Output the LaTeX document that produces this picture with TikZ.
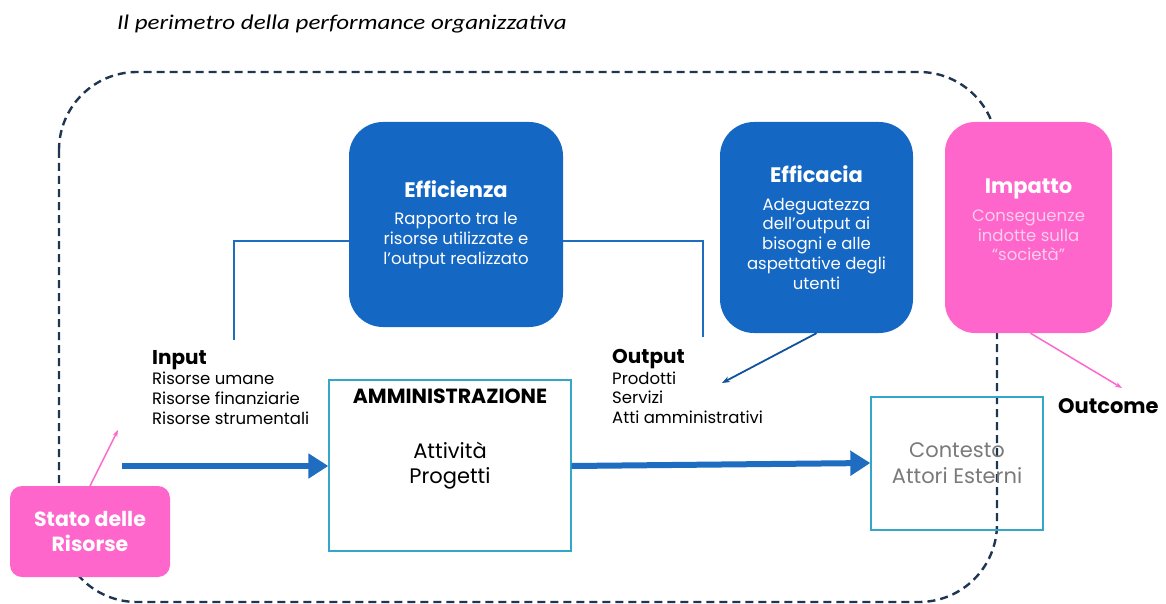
\documentclass[tikz,border=0pt]{standalone}
\usepackage{fontspec}
\setmainfont{Poppins}
\newfontfamily\titlefont{Carlito}
\usetikzlibrary{arrows.meta,calc}
\definecolor{navy}{HTML}{1F3550}
\definecolor{boxblue}{HTML}{1467C3}
\definecolor{flowblue}{HTML}{1F6DC0}
\definecolor{hotpink}{HTML}{FF66CC}
\definecolor{palepink}{HTML}{F9CDEB}
\definecolor{framecol}{HTML}{33A6C9}
\definecolor{greytext}{HTML}{7A7A7A}
\tikzset{
  bluebox/.style={fill=boxblue, draw=none, rounded corners=34pt, text=white,
    align=center, inner sep=0pt, font=\fontsize{16.5}{19.8}\selectfont},
  pinkbox/.style={fill=hotpink, draw=none, text=white, align=center, inner sep=0pt},
  framebox/.style={draw=framecol, line width=1.3pt, inner sep=0pt, align=center},
  perimeter/.style={draw=navy, line width=2.4pt, dash pattern=on 8pt off 5pt,
    rounded corners=78pt},
  bracket/.style={draw=flowblue, line width=2pt},
  flow/.style={draw=flowblue, line width=6pt, -{Triangle[length=20pt,width=24pt]}},
  thinpink/.style={draw=hotpink, line width=1.5pt, -{Stealth[length=7pt,width=5pt]}},
  thinblue/.style={draw=boxblue!80!black, line width=1.8pt, -{Stealth[length=8pt,width=6pt]}},
  sidelist/.style={anchor=north west, align=left, inner sep=0pt,
    font=\fontsize{16.5}{19.6}\selectfont},
}
\newcommand\boxhead[1]{{\fontsize{21}{22}\selectfont\bfseries #1}}
\begin{document}
\begin{tikzpicture}[x=1pt,y=-1pt]
\useasboundingbox (0,0) rectangle (1166,604);

% title
\node (title) [anchor=west, inner sep=0pt,
  font=\titlefont\itshape\fontsize{21}{22}\selectfont] at (117,24)
  {\scalebox{1.19}[1]{Il perimetro della performance organizzativa}};

% dashed perimeter of the organisation
\path[perimeter] (59,72) rectangle (997,602);

% blue assessment boxes
\node (eff) [bluebox, minimum width=214pt, minimum height=205pt] at (456,224.5)
  {\boxhead{Efficienza}\\[8pt]
   Rapporto tra le\\risorse utilizzate e\\l’output realizzato};
\node (effc) [bluebox, minimum width=193pt, minimum height=211pt] at (816.5,227.5)
  {\boxhead{Efficacia}\\[8pt]
   Adeguatezza\\dell’output ai\\bisogni e alle\\aspettative degli\\utenti};
\node (imp) [pinkbox, rounded corners=30pt, minimum width=167pt, minimum height=211pt]
  at (1028.5,227.5) {};
\node (imptext) [text=palepink, align=center, inner sep=0pt, anchor=north,
  font=\fontsize{16.5}{19.6}\selectfont] at (1028.5,179)
  {{\color{white}\boxhead{Impatto}}\\[8pt]
   Conseguenze\\indotte sulla\\“società”};

% bracket joining input and output through Efficienza
\coordinate (inlink) at (234,340);
\coordinate (outlink) at (703,337);
\draw[bracket] (inlink) |- (eff.west |- 0,241);
\draw[bracket] (eff.east |- 0,241) -| (outlink);

% input / output lists
\node (input) [sidelist] at (152,350)
  {{\fontsize{20}{20}\selectfont\bfseries Input}\\[1pt]
   Risorse umane\\Risorse finanziarie\\Risorse strumentali};
\node (output) [sidelist] at (612,349)
  {{\fontsize{20}{20}\selectfont\bfseries Output}\\[1pt]
   Prodotti\\Servizi\\Atti amministrativi};

% administration
\node (admin) [framebox, minimum width=242pt, minimum height=171pt,
  font=\fontsize{21}{25}\selectfont] at (450,465.5) {Attività\\Progetti};
\node (admintitle) [anchor=north, inner sep=0pt,
  font=\fontsize{20.5}{22}\selectfont\bfseries] at ($(admin.north)+(0,9)$)
  {AMMINISTRAZIONE};

% external context
\node (ctx) [framebox, minimum width=172pt, minimum height=133pt, text=greytext,
  font=\fontsize{21}{26}\selectfont] at (957,463.5) {Contesto\\Attori Esterni};

% state of resources
\node (stato) [pinkbox, rounded corners=12pt, minimum width=160pt, minimum height=91pt,
  font=\fontsize{20.5}{25}\selectfont\bfseries] at (90,531.5) {Stato delle\\Risorse};

\node (outcome) [anchor=west, inner sep=0pt, font=\fontsize{21}{22}\selectfont\bfseries]
  at (1058,406) {Outcome};

% flows
\coordinate (flowstart) at (122,466);
\draw[flow] (flowstart) -- (admin.west |- flowstart);
\draw[flow] (admin.east |- flowstart) -- (ctx.west |- 0,463);

\coordinate (inputtip) at (118,430);
\draw[thinpink] (stato.north |- 0,486) -- (inputtip);
\coordinate (outputtip) at (722,383);
\draw[thinblue] (effc.south) -- (outputtip);
\coordinate (outcometip) at (1122,388);
\draw[thinpink] ($(imp.south)+(2,0)$) -- (outcometip);
\end{tikzpicture}
\end{document}
